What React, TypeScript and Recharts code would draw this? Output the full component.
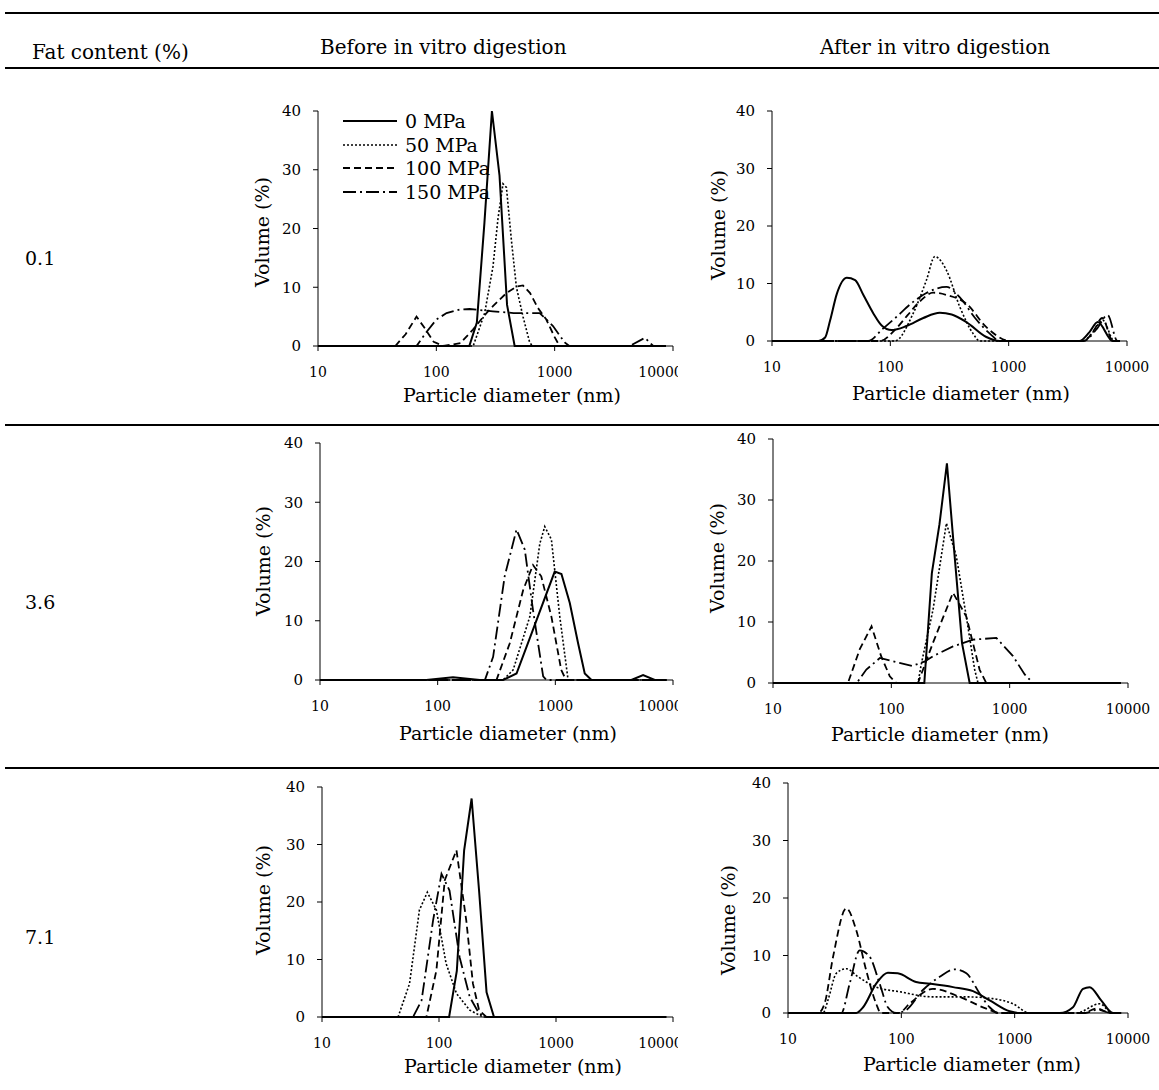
import { LineChart, Line, XAxis, YAxis, Legend } from "recharts";

type Pt = [number, number];

// [particle diameter (nm), volume (%)]
// 0.1 % fat, before digestion
const before01_0: Pt[] = [[10, 0], [190, 0], [220, 4], [255, 21], [295, 40], [342, 29], [396, 7], [459, 0], [8700, 0]];
const before01_50: Pt[] = [[10, 0], [205, 0], [256, 5.6], [301, 13.5], [332, 21.7], [366, 27.6], [391, 27], [431, 18], [475, 10], [540, 5], [615, 0.6], [650, 0], [8700, 0]];
const before01_100: Pt[] = [[10, 0], [45, 0], [55, 2], [68, 5], [80, 3], [95, 0.7], [115, 0], [160, 0.5], [204, 2.8], [250, 5], [301, 6.8], [391, 9], [475, 10.1], [540, 10.3], [620, 9], [720, 6.5], [850, 4.5], [1000, 1.5], [1100, 0], [8700, 0]];
const before01_150: Pt[] = [[10, 0], [68, 0], [82, 2.3], [100, 4.5], [122, 5.6], [157, 6.2], [191, 6.3], [300, 5.9], [450, 5.6], [747, 5.6], [968, 3.4], [1216, 0.6], [1330, 0], [4300, 0], [5800, 1.4], [6800, 0], [8700, 0]];

// 0.1 % fat, after digestion
const after01_0: Pt[] = [[10, 0], [24.7, 0], [28.1, 0.6], [31, 3.6], [35.3, 8.2], [42.9, 11], [50.4, 10.6], [59.2, 8], [71.9, 4.8], [84.5, 2.7], [102.6, 1.9], [137, 2.6], [190, 4], [262, 4.9], [330, 4.6], [439, 3.3], [648, 0.7], [840, 0], [3960, 0], [4800, 1.5], [5660, 3.3], [7570, 0], [8700, 0]];
const after01_50: Pt[] = [[10, 0], [109, 0], [156, 4.8], [202, 10.6], [238, 14.7], [298, 12.3], [387, 5.9], [500, 1.3], [570, 0], [4230, 0], [5130, 1.5], [6230, 3.6], [7820, 0], [8700, 0]];
const after01_100: Pt[] = [[10, 0], [82, 0], [110, 2], [140, 4.5], [180, 7], [230, 8.4], [300, 8], [439, 6.5], [648, 2.4], [955, 0.1], [1000, 0], [4300, 0], [5300, 2], [6170, 4], [7600, 0], [8700, 0]];
const after01_150: Pt[] = [[10, 0], [65, 0], [85, 2], [110, 4], [156, 6.8], [200, 8.3], [298, 9.4], [390, 7.5], [520, 4], [700, 1.2], [840, 0], [4300, 0], [5500, 2], [6870, 4.5], [8300, 0], [8700, 0]];

// 3.6 % fat, before digestion
const before36_0: Pt[] = [[10, 0], [80, 0], [135, 0.45], [228, 0], [360, 0], [468, 1.1], [646, 8.5], [988, 18.3], [1127, 17.9], [1327, 13], [1561, 6.2], [1778, 1.1], [2030, 0], [4430, 0], [5570, 0.85], [7000, 0], [8800, 0]];
const before36_50: Pt[] = [[10, 0], [360, 0], [438, 1.7], [607, 10.7], [738, 23], [813, 25.9], [926, 23.7], [1091, 10.7], [1284, 0], [8800, 0]];
const before36_100: Pt[] = [[10, 0], [316, 0], [410, 6.2], [533, 15.2], [646, 19.4], [759, 17.5], [926, 10.7], [1122, 1.7], [1233, 0], [8800, 0]];
const before36_150: Pt[] = [[10, 0], [252, 0], [296, 3.9], [371, 17.5], [468, 25.4], [550, 22], [646, 11.8], [788, 0.6], [841, 0], [8800, 0]];

// 3.6 % fat, after digestion
const after36_0: Pt[] = [[10, 0], [190, 0], [220, 18], [255, 26], [295, 36], [342, 21], [396, 6.5], [459, 0], [8700, 0]];
const after36_50: Pt[] = [[10, 0], [168, 0], [180, 3.3], [225, 12], [292, 26.2], [354, 20.8], [430, 10.9], [506, 2.2], [540, 0], [8700, 0]];
const after36_100: Pt[] = [[10, 0], [43, 0], [54, 5.5], [68, 9.3], [82, 4.4], [97, 1.1], [110, 0], [168, 0], [225, 6.6], [332, 14.8], [430, 10.9], [557, 2.2], [634, 0], [8700, 0]];
const after36_150: Pt[] = [[10, 0], [51, 0], [61.5, 2.2], [80, 4.1], [117, 3.3], [150, 2.8], [190, 3.5], [225, 4.4], [332, 6], [489, 7.1], [771, 7.4], [1067, 4.4], [1340, 1.4], [1574, 0], [8700, 0]];

// 7.1 % fat, before digestion
const before71_0: Pt[] = [[10, 0], [122, 0], [142, 8], [164, 29], [190, 38], [220, 22], [255, 4.3], [295, 0], [8800, 0]];
const before71_50: Pt[] = [[10, 0], [44.7, 0], [56, 5.8], [68, 18.6], [79.5, 21.7], [95, 18.6], [115, 9.3], [141, 4.1], [183, 1.2], [238, 0], [8800, 0]];
const before71_100: Pt[] = [[10, 0], [78, 0], [95, 8.1], [112, 23.8], [141, 29], [171, 16.8], [195, 5.8], [220, 1.2], [254, 0], [8800, 0]];
const before71_150: Pt[] = [[10, 0], [60, 0], [71, 2.9], [89, 16.8], [105, 24.9], [123, 22], [150, 10.4], [183, 3.5], [220, 0.6], [254, 0], [8800, 0]];

// 7.1 % fat, after digestion
const after71_0: Pt[] = [[10, 0], [40, 0], [46, 1], [60, 5.1], [76, 7], [93, 6.9], [135, 5.4], [178, 5.1], [286, 4.5], [429, 3.8], [602, 2.2], [903, 0.3], [1107, 0], [2500, 0], [3270, 1], [4010, 4.2], [4590, 4.5], [5800, 2.2], [7380, 0], [8700, 0]];
const after71_50: Pt[] = [[10, 0], [20.4, 0], [22.5, 2.2], [26.7, 6.9], [32.7, 7.7], [41.5, 6.3], [60, 4.5], [96.6, 3.7], [190, 2.8], [375, 2.8], [644, 2.5], [966, 1.6], [1355, 0], [3500, 0], [5620, 1.6], [7300, 0], [8700, 0]];
const after71_100: Pt[] = [[10, 0], [18.4, 0], [21, 1.6], [25, 9.8], [32.7, 18.2], [40, 14.4], [49, 7.4], [60, 1.6], [66, 0], [95, 0], [118, 1.6], [190, 4.2], [327, 2.8], [562, 0.75], [738, 0], [4000, 0], [5300, 0.8], [7000, 0], [8700, 0]];
const after71_150: Pt[] = [[10, 0], [29.5, 0], [35, 5.1], [42.9, 10.9], [52.5, 9.8], [64.4, 5.1], [76, 1], [90, 0], [110, 0.5], [155, 4], [218, 6.3], [295, 7.6], [375, 6.9], [491, 3.4], [602, 1], [713, 0], [4200, 0], [5400, 0.6], [7000, 0], [8700, 0]];

const PRESSURES = ["0 MPa", "50 MPa", "100 MPa", "150 MPa"];
const FAT_LEVELS = ["0.1", "3.6", "7.1"];
const X_TICKS = [10, 100, 1000, 10000];
const Y_TICKS = [0, 10, 20, 30, 40];

const DASHES = [undefined, "2 2", "7 4", "13 4 2 4"];
const WIDTHS = [2, 1.6, 1.8, 1.8];
const FONT = "'DejaVu Serif', serif";

const toRows = (pts: Pt[]) => pts.map(([d, v]) => ({ d, v }));

const LegendBox = () => (
  <div style={{ fontFamily: FONT, fontSize: 19, color: "#000" }}>
    {PRESSURES.map((p, i) => (
      <div key={p} style={{ display: "flex", alignItems: "center", height: 23.7 }}>
        <svg width={54} height={6} style={{ marginRight: 8 }}>
          <line x1={0} y1={3} x2={54} y2={3} stroke="#000" strokeWidth={WIDTHS[i]} strokeDasharray={DASHES[i]} />
        </svg>
        <span>{p}</span>
      </div>
    ))}
  </div>
);

interface ChartProps {
  series: Pt[][];
  x0: number;
  x1: number;
  yTop: number;
  yBot: number;
  rm: number;
  curve: "linear" | "monotone";
  xTitle: [number, number];
  yTitle: [number, number];
  legend?: boolean;
}

const SizeChart = ({ series, x0, x1, yTop, yBot, rm, curve, xTitle, yTitle, legend }: ChartProps) => {
  const left = x0 - 80;
  const top = yTop - 15;
  const W = 80 + (x1 - x0) + rm;
  const H = 15 + (yBot - yTop) + 70;
  const tx = xTitle[0] - left;
  const ty = xTitle[1] - top;
  const vx = yTitle[0] - left;
  const vy = yTitle[1] - top;

  return (
    <div style={{ position: "absolute", left, top }}>
      <LineChart width={W} height={H} margin={{ top: 15, right: rm, bottom: 0, left: 0 }}>
        <XAxis
          type="number"
          dataKey="d"
          scale="log"
          domain={[10, 10000]}
          ticks={X_TICKS}
          allowDataOverflow
          height={70}
          stroke="#000"
          tickSize={5}
          tickMargin={16}
          tick={{ fill: "#000", fontSize: 14, fontFamily: FONT }}
          label={{
            content: () => (
              <text x={tx} y={ty} textAnchor="middle" dominantBaseline="central" fontSize={19} fontFamily={FONT} fill="#000">
                Particle diameter (nm)
              </text>
            ),
          }}
        />
        <YAxis
          type="number"
          domain={[0, 40]}
          ticks={Y_TICKS}
          width={80}
          stroke="#000"
          tickSize={5}
          tickMargin={12}
          tick={{ fill: "#000", fontSize: 15, fontFamily: FONT }}
          label={{
            content: () => (
              <text x={vx} y={vy} transform={`rotate(-90 ${vx} ${vy})`} textAnchor="middle" dominantBaseline="central" fontSize={19} fontFamily={FONT} fill="#000">
                Volume (%)
              </text>
            ),
          }}
        />
        {series.map((pts, i) => (
          <Line
            key={PRESSURES[i]}
            data={toRows(pts)}
            dataKey="v"
            name={PRESSURES[i]}
            type={curve}
            stroke="#000"
            strokeWidth={WIDTHS[i]}
            strokeDasharray={DASHES[i]}
            dot={false}
            activeDot={false}
            isAnimationActive={false}
          />
        ))}
        {legend && (
          <Legend
            layout="vertical"
            align="center"
            verticalAlign="middle"
            wrapperStyle={{ left: 105, top: 13, width: "auto", height: "auto" }}
            content={LegendBox}
          />
        )}
      </LineChart>
    </div>
  );
};

const hline = (y: number, h: number, x0 = 5, x1 = 1159) => (
  <div style={{ position: "absolute", left: x0, top: y - h / 2, width: x1 - x0, height: h, background: "#000" }} />
);

const textAt = (s: string, x: number, cy: number, size: number) => (
  <div style={{ position: "absolute", left: x, top: cy - size / 2, fontSize: size, lineHeight: 1, whiteSpace: "nowrap" }}>{s}</div>
);

export default function App() {
  return (
    <div style={{ position: "absolute", left: 0, top: 0, width: 1159, height: 1090, background: "#fff", fontFamily: FONT, color: "#000", overflow: "hidden" }}>
      {hline(13, 2.5)}
      {hline(68, 2.5)}
      {hline(425, 2.5)}
      {hline(768, 1.2)}
      {hline(768, 2.5, 5, 243)}

      {textAt("Fat content (%)", 32, 52, 20)}
      {textAt("Before in vitro digestion", 320, 47, 20)}
      {textAt("After in vitro digestion", 820, 47, 20)}

      {textAt(FAT_LEVELS[0], 25, 258, 19)}
      {textAt(FAT_LEVELS[1], 25, 602, 19)}
      {textAt(FAT_LEVELS[2], 25, 937, 19)}

      <SizeChart series={[before01_0, before01_50, before01_100, before01_150]} x0={318} x1={673} yTop={111} yBot={346} rm={5} curve="linear" xTitle={[512, 395]} yTitle={[262, 232]} legend />
      <SizeChart series={[after01_0, after01_50, after01_100, after01_150]} x0={772} x1={1127} yTop={111} yBot={341} rm={30} curve="monotone" xTitle={[961, 393]} yTitle={[718, 225]} />
      <SizeChart series={[before36_0, before36_50, before36_100, before36_150]} x0={320} x1={673} yTop={443} yBot={680} rm={5} curve="linear" xTitle={[508, 733]} yTitle={[263, 561]} />
      <SizeChart series={[after36_0, after36_50, after36_100, after36_150]} x0={773} x1={1128} yTop={439} yBot={683} rm={30} curve="linear" xTitle={[940, 734]} yTitle={[717, 558]} />
      <SizeChart series={[before71_0, before71_50, before71_100, before71_150]} x0={322} x1={673} yTop={787} yBot={1017} rm={5} curve="linear" xTitle={[513, 1066]} yTitle={[263, 900]} />
      <SizeChart series={[after71_0, after71_50, after71_100, after71_150]} x0={788} x1={1128} yTop={783} yBot={1013} rm={30} curve="monotone" xTitle={[972, 1064]} yTitle={[728, 920]} />
    </div>
  );
}
